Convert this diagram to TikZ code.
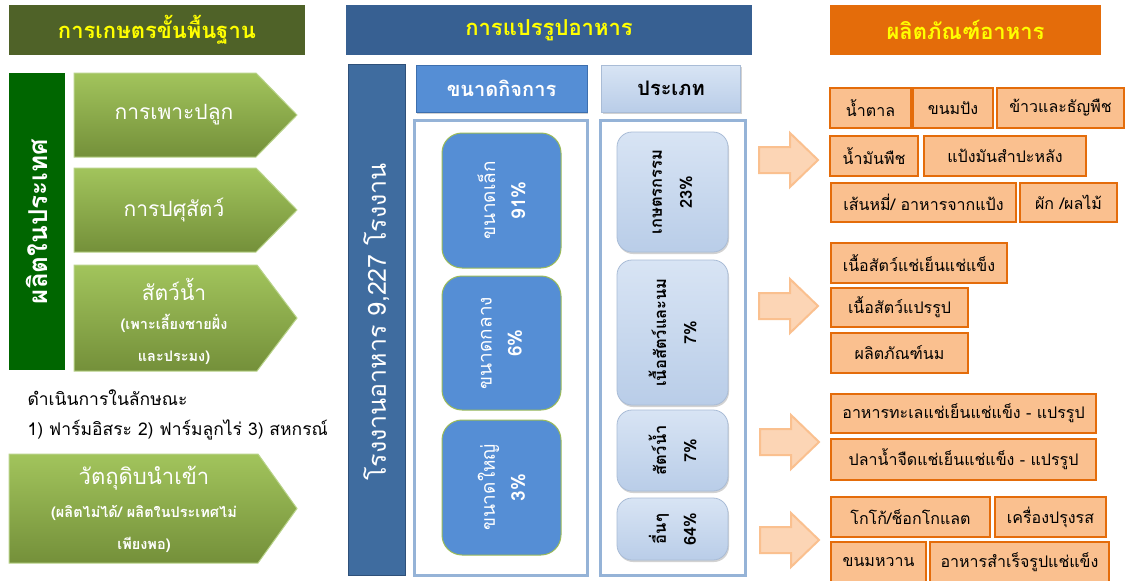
\documentclass[tikz,border=0pt]{standalone}
\usepackage{fontspec}
\setmainfont{Loma}[Script=Thai]
\usetikzlibrary{shadows}
\definecolor{hdrgreen}{HTML}{4F6228}
\definecolor{hdrblue}{HTML}{376092}
\definecolor{hdrorange}{HTML}{E46C0A}
\definecolor{ttlyellow}{HTML}{FFFF00}
\definecolor{dgreen}{HTML}{006600}
\definecolor{agtop}{HTML}{A2C45C}
\definecolor{agbot}{HTML}{74903A}
\definecolor{agline}{HTML}{B9D38A}
\definecolor{bigblue}{HTML}{3F6C9F}
\definecolor{bigblueline}{HTML}{2E5079}
\definecolor{midblue}{HTML}{558ED5}
\definecolor{midblueline}{HTML}{3D6FAE}
\definecolor{lbluetop}{HTML}{D8E4F4}
\definecolor{lbluebot}{HTML}{B9CDE8}
\definecolor{lblueline}{HTML}{A9BCD6}
\definecolor{frameblue}{HTML}{95B3D7}
\definecolor{sizeline}{HTML}{9BBB59}
\definecolor{ofill}{HTML}{FAC08F}
\definecolor{oline}{HTML}{E46C0A}
\definecolor{oafill}{HTML}{FCD5B5}
\definecolor{oaline}{HTML}{FAC08F}
\newcommand{\myfs}[2]{\fontsize{#1pt}{#2pt}\selectfont}
\begin{document}
\begin{tikzpicture}[x=1pt,y=-1pt,
  hdr/.style={minimum height=50, inner sep=0, text=ttlyellow, font=\myfs{22}{26}\bfseries},
  garrow/.style={top color=agtop, bottom color=agbot, draw=agline, line width=1},
  gtitle/.style={text=white, font=\myfs{21}{24}},
  gsub/.style={text=white, font=\myfs{14.5}{32}\bfseries, align=center},
  rtext/.style={rotate=90, align=center},
  szbox/.style={fill=midblue, draw=sizeline, line width=1, rounded corners=20, minimum width=119, inner sep=0},
  tybox/.style={top color=lbluetop, bottom color=lbluebot, draw=lblueline, line width=0.8, rounded corners=15, minimum width=111, inner sep=0, drop shadow={opacity=0.35, shadow xshift=1pt, shadow yshift=-2pt}},
  obox/.style={draw=oline, fill=ofill, line width=1.5, inner sep=0, minimum height=40, font=\myfs{16}{18}},
  oarrow/.style={fill=oafill, draw=oaline, line width=2, line join=miter}
]
\useasboundingbox[fill=white] (0,0) rectangle (1125,581);

% headers
\node[hdr, fill=hdrgreen, minimum width=296] (hA) at (157,30) {การเกษตรขั้นพื้นฐาน};
\node[hdr, fill=hdrblue, minimum width=406] (hB) at (549,30) {การแปรรูปอาหาร};
\node[hdr, fill=hdrorange, minimum width=271] (hC) at (965.5,30) {ผลิตภัณฑ์อาหาร};

% left column
\node[fill=dgreen, minimum width=56, minimum height=297, inner sep=0] (dom) at (37,221.5) {};
\node[rtext, text=white, font=\myfs{26}{30}\bfseries] (domt) at (dom.center) {ผลิตในประเทศ};

\path[garrow] (74,73) -- (256,73) -- (297,115) -- (256,157) -- (74,157) -- cycle;
\node[gtitle] (g1) at (174,115) {การเพาะปลูก};
\path[garrow] (74,168) -- (256,168) -- (297,210) -- (256,252) -- (74,252) -- cycle;
\node[gtitle] (g2) at (174,210) {การปศุสัตว์};
\path[garrow] (74,265) -- (257,265) -- (297,318) -- (257,371) -- (74,371) -- cycle;
\node[gtitle] (g3) at (174,289) {สัตว์น้ำ};
\node[gsub] (g3s) at (174,339) {(เพาะเลี้ยงชายฝั่ง\\และประมง)};

\node[anchor=west, font=\myfs{17.5}{30}, align=left] (note) at (24,415) {ดำเนินการในลักษณะ\\1) ฟาร์มอิสระ 2) ฟาร์มลูกไร่ 3) สหกรณ์};

\path[garrow] (9,454) -- (258,454) -- (297,508.5) -- (258,563) -- (9,563) -- cycle;
\node[gtitle, font=\myfs{22}{24}] (g4) at (144,478) {วัตถุดิบนำเข้า};
\node[gsub] (g4s) at (144,529) {(ผลิตไม่ได้/ ผลิตในประเทศไม่\\เพียงพอ)};

% middle column
\node[fill=bigblue, draw=bigblueline, line width=1, minimum width=57, minimum height=511, inner sep=0] (fac) at (376.5,319.5) {};
\node[rtext, text=white, font=\myfs{25}{28}] (fact) at (376.5,322) {โรงงานอาหาร 9,227 โรงงาน};

\node[fill=midblue, draw=midblueline, line width=0.8, minimum width=171, minimum height=47, inner sep=0, text=white, font=\myfs{20}{24}\bfseries, drop shadow={opacity=0.35, shadow xshift=1pt, shadow yshift=-2pt}] (sz) at (501.5,88.5) {ขนาดกิจการ};
\node[top color=lbluetop, bottom color=lbluebot, draw=lblueline, line width=0.8, minimum width=139, minimum height=47, inner sep=0, font=\myfs{20}{24}\bfseries, drop shadow={opacity=0.35, shadow xshift=1pt, shadow yshift=-2pt}] (ty) at (671,88.5) {ประเภท};

\node[draw=frameblue, line width=3, fill=white, minimum width=173, minimum height=455, inner sep=0] (fr1) at (500.5,347.5) {};
\node[draw=frameblue, line width=3, fill=white, minimum width=145, minimum height=455, inner sep=0] (fr2) at (672.5,347.5) {};

\node[szbox, minimum height=135] (s1) at (501.5,200.5) {};
\node[szbox, minimum height=134] (s2) at (501.5,343) {};
\node[szbox, minimum height=135] (s3) at (501.5,487.5) {};
\node[rtext, text=white, font=\myfs{19}{30}] (s1t) at (s1.center) {ขนาดเล็ก\\\textbf{91\%}};
\node[rtext, text=white, font=\myfs{19}{30}] (s2t) at (s2.center) {ขนาดกลาง\\\textbf{6\%}};
\node[rtext, text=white, font=\myfs{19}{30}] (s3t) at (s3.center) {ขนาดใหญ่\\\textbf{3\%}};

\node[tybox, minimum height=120] (t1) at (672.5,192) {};
\node[tybox, minimum height=145] (t2) at (672.5,332.5) {};
\node[tybox, minimum height=81] (t3) at (672.5,450.5) {};
\node[tybox, minimum height=62] (t4) at (672.5,529) {};
\node[rtext, font=\myfs{16.5}{30}\bfseries] (t1t) at (t1.center) {เกษตรกรรม\\23\%};
\node[rtext, font=\myfs{16.5}{30}\bfseries] (t2t) at (t2.center) {เนื้อสัตว์และนม\\7\%};
\node[rtext, font=\myfs{16.5}{30}\bfseries] (t3t) at (t3.center) {สัตว์น้ำ\\7\%};
\node[rtext, font=\myfs{16.5}{30}\bfseries] (t4t) at (t4.center) {อื่นๆ\\64\%};

% orange arrows
\path[oarrow] (759,147) -- (790,147) -- (790,133) -- (818,160) -- (790,187) -- (790,173) -- (759,173) -- cycle;
\path[oarrow] (759,293) -- (790,293) -- (790,279) -- (818,306) -- (790,333) -- (790,319) -- (759,319) -- cycle;
\path[oarrow] (760,429) -- (791,429) -- (791,415) -- (819,442) -- (791,469) -- (791,455) -- (760,455) -- cycle;
\path[oarrow] (760,527) -- (791,527) -- (791,513) -- (819,540) -- (791,567) -- (791,553) -- (760,553) -- cycle;

% products
\node[obox, minimum width=81] (p1) at (870.5,108) {น้ำตาล};
\node[obox, minimum width=80] (p2) at (953,108) {ขนมปัง};
\node[obox, minimum width=127] (p3) at (1060.5,108) {ข้าวและธัญพืช};
\node[obox, minimum width=88] (p4) at (874,156) {น้ำมันพืช};
\node[obox, minimum width=162] (p5) at (1005,156) {แป้งมันสำปะหลัง};
\node[obox, minimum width=185, minimum height=39] (p6) at (923.5,202.5) {เส้นหมี่/ อาหารจากแป้ง};
\node[obox, minimum width=97, minimum height=39] (p7) at (1068.5,202.5) {ผัก /ผลไม้};
\node[obox, minimum width=176] (p8) at (919,263) {เนื้อสัตว์แช่เย็นแช่แข็ง};
\node[obox, minimum width=137, minimum height=39] (p9) at (899.5,307.5) {เนื้อสัตว์แปรรูป};
\node[obox, minimum width=137] (p10) at (899.5,353) {ผลิตภัณฑ์นม};
\node[obox, minimum width=265, minimum height=39] (p11) at (963.5,413.5) {อาหารทะเลแช่เย็นแช่แข็ง - แปรรูป};
\node[obox, minimum width=265, minimum height=41] (p12) at (963.5,459.5) {ปลาน้ำจืดแช่เย็นแช่แข็ง - แปรรูป};
\node[obox, minimum width=159] (p13) at (910.5,517) {โกโก้/ช็อกโกแลต};
\node[obox, minimum width=111] (p14) at (1050.5,517) {เครื่องปรุงรส};
\node[obox, minimum width=95] (p15) at (878.5,562) {ขนมหวาน};
\node[obox, minimum width=179] (p16) at (1019.5,562) {อาหารสำเร็จรูปแช่แข็ง};
\end{tikzpicture}
\end{document}
